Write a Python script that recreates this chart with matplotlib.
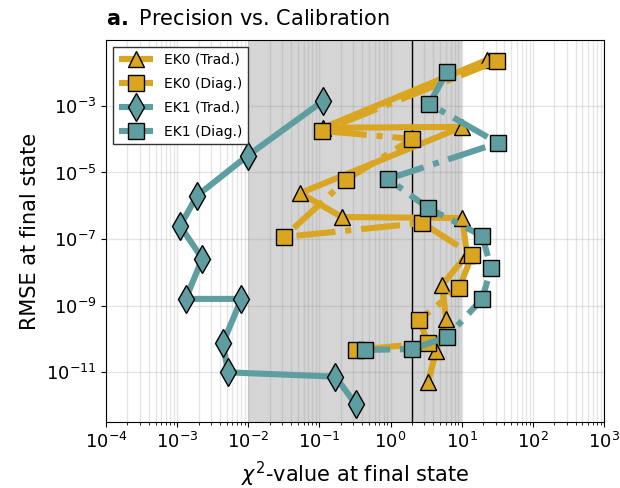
import matplotlib
matplotlib.use("Agg")
import matplotlib.pyplot as plt

# chi^2 value (x) and RMSE (y) at the final state, one point per setting
ek0_trad_chi2 = [22.9, 0.113, 10.2, 0.0536, 0.208, 10.2, 11.9, 5.3, 6.05, 4.38, 3.38]
ek0_trad_rmse = [2.4e-2, 2.2e-4, 2.34e-4, 2.4e-6, 4.6e-7, 4.3e-7, 3.4e-8, 4.2e-9, 4.0e-10, 4.4e-11, 5.2e-12]

ek0_diag_chi2 = [31.6, 0.109, 2.01, 0.238, 0.0319, 2.78, 14.1, 9.2, 2.52, 3.38, 0.328]
ek0_diag_rmse = [2.24e-2, 1.77e-4, 1.02e-4, 6.0e-6, 1.16e-7, 3.06e-7, 3.4e-8, 3.4e-9, 3.75e-10, 7.6e-11, 4.7e-11]

ek1_trad_chi2 = [0.112, 0.0098, 1.9e-3, 1.1e-3, 2.26e-3, 1.32e-3, 8.0e-3, 4.4e-3, 5.2e-3, 0.168, 0.325]
ek1_trad_rmse = [1.4e-3, 3.2e-5, 2.0e-6, 2.5e-7, 2.6e-8, 1.6e-9, 1.6e-9, 7.5e-11, 1.0e-11, 7.4e-12, 1.1e-12]

ek1_diag_chi2 = [6.25, 3.49, 32.6, 0.925, 3.38, 19.4, 26.0, 19.4, 6.25, 2.01, 0.44]
ek1_diag_rmse = [1.05e-2, 1.15e-3, 7.7e-5, 6.4e-6, 8.6e-7, 1.25e-7, 1.36e-8, 1.6e-9, 1.16e-10, 5.0e-11, 4.7e-11]

GOLD = "#DAA520"
TEAL = "#5F9EA0"

fig = plt.figure(figsize=(6.2, 4.88), dpi=100)
ax = fig.add_axes([0.171, 0.135, 0.803, 0.783])

ax.axvspan(1e-2, 1e1, color="lightgray", alpha=0.95, zorder=0, lw=0)
ax.axvline(2.0, color="black", lw=1.0, zorder=1)

common = dict(lw=4.4, markeredgecolor="black", markeredgewidth=1.0,
              dash_capstyle="butt", solid_capstyle="butt")
ax.plot(ek0_trad_chi2, ek0_trad_rmse, "-", marker="^", ms=12, color=GOLD,
        label="EK0 (Trad.)", zorder=3, **common)
ax.plot(ek0_diag_chi2, ek0_diag_rmse, "-.", marker="s", ms=11.5, color=GOLD,
        label="EK0 (Diag.)", zorder=4, **common)
ax.plot(ek1_trad_chi2, ek1_trad_rmse, "-", marker="d", ms=14, color=TEAL,
        label="EK1 (Trad.)", zorder=5, **common)
ax.plot(ek1_diag_chi2, ek1_diag_rmse, "-.", marker="s", ms=11.5, color=TEAL,
        label="EK1 (Diag.)", zorder=6, **common)

ax.set_xscale("log")
ax.set_yscale("log")
ax.set_xlim(1e-4, 1e3)
ax.set_ylim(3.2e-13, 9.5e-2)
ax.set_yticks([1e-3, 1e-5, 1e-7, 1e-9, 1e-11])
ax.yaxis.set_minor_locator(matplotlib.ticker.NullLocator())
ax.set_axisbelow(True)
ax.grid(True, which="both", color="gray", alpha=0.2, lw=1.0, zorder=0.5)
ax.tick_params(labelsize=13)

ax.set_xlabel(r"$\chi^2$-value at final state", fontsize=15, labelpad=6)
ax.set_ylabel("RMSE at final state", fontsize=15)
ax.set_title(r"$\bf{a.}$ Precision vs. Calibration", loc="left", fontsize=15, pad=11)

leg = ax.legend(loc="upper left", fontsize=10, fancybox=False, edgecolor="#333333",
                handlelength=2.5, labelspacing=0.72, framealpha=1.0)
leg.set_zorder(10)

fig.savefig("out.png", dpi=100)
